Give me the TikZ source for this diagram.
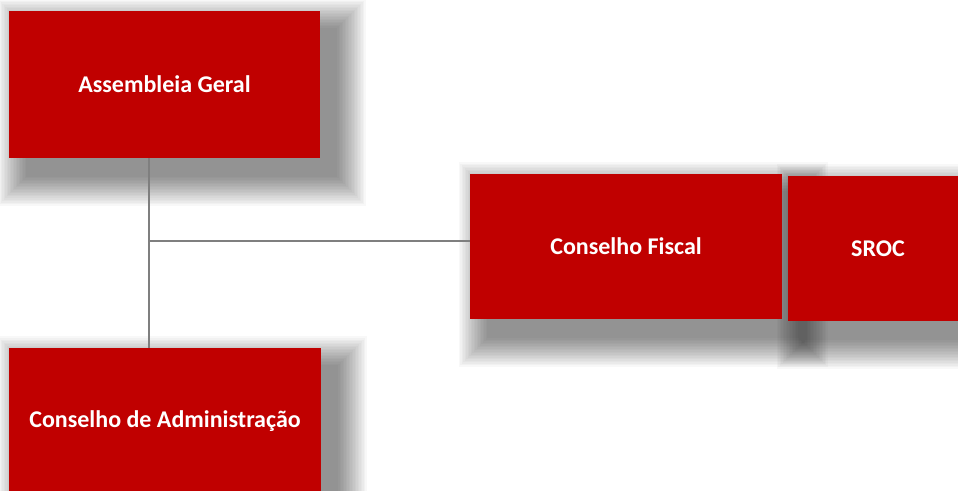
\documentclass[tikz,border=0pt]{standalone}
\usepackage{fontspec}
\setmainfont{Carlito}
\usetikzlibrary{backgrounds}
\definecolor{boxred}{HTML}{C00000}
\definecolor{linkgray}{HTML}{7F7F7F}
\begin{document}
\begin{tikzpicture}[x=1bp,y=-1bp,
  orgbox/.style={fill=boxred, draw=none, text=white, inner sep=0pt, outer sep=0pt,
    anchor=north west, font=\bfseries\fontsize{24bp}{29bp}\selectfont},
  link/.style={draw=linkgray, line width=1.3bp}]
\useasboundingbox (0,0) rectangle (958,491);
\clip (0,0) rectangle (958,491);

% organisation units
\node[orgbox, minimum width=311bp, minimum height=147bp] (ag) at (9,11) {Assembleia Geral};
\node[orgbox, minimum width=312bp, minimum height=145bp] (cf) at (470,174) {Conselho Fiscal};
\node[orgbox, minimum width=180bp, minimum height=145bp] (sroc) at (788,176) {SROC};
\node[orgbox, minimum width=312bp, minimum height=147bp] (ca) at (9,348) {Conselho de Administração};

% connectors
\draw[link] (ag.south -| 149,0) -- (ca.north -| 149,0);
\draw[link] (149,241) -- (cf.west |- 0,241);

% soft drop shadows behind the boxes
\begin{pgfonlayer}{background}
  \foreach \n in {ag,cf,sroc,ca}{
    \foreach \r in {0,1.5,...,28.5}{
      \fill[black,opacity=0.026]
        ([shift={({17-\r},{17-\r})}]\n.north west) rectangle
        ([shift={({17+\r},{19+\r})}]\n.south east);
    }
  }
\end{pgfonlayer}
\end{tikzpicture}
\end{document}
